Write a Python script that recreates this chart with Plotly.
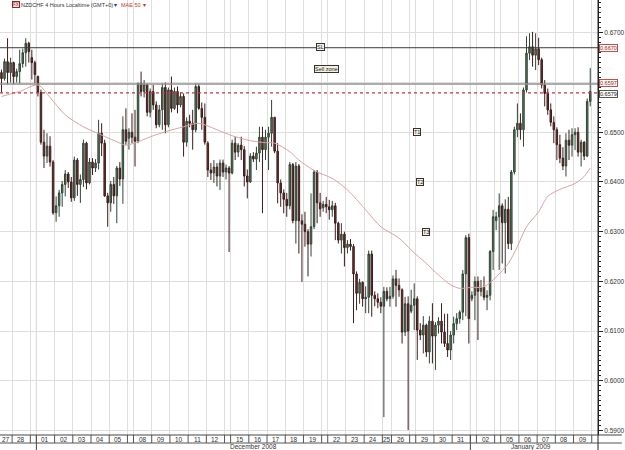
import plotly.graph_objects as go

# ---------------- data ----------------
day_labels = ['27', '28', '', '01', '02', '03', '04', '05', '', '08', '09', '10', '11', '12', '',
              '15', '16', '17', '18', '19', '', '22', '23', '24', '25', '26', '', '29', '30', '31',
              '', '02', '', '05', '06', '07', '08', '09']
day_sizes = [4, 6, 2, 6, 6, 6, 6, 6, 2, 6, 6, 6, 6, 6, 2,
             6, 6, 6, 6, 6, 2, 6, 6, 6, 3, 6, 2, 6, 6, 6,
             2, 6, 2, 6, 6, 6, 6, 6]
month_labels = ['December 2008', 'January 2009']
month_first_day = [3, 30]

opens = [
    0.6620, 0.6608, 0.6642, 0.6620,
    0.6640, 0.6612, 0.6622, 0.6638, 0.6660, 0.6679,
    0.6650, 0.6640,
    0.6612, 0.6580, 0.6480, 0.6452, 0.6472, 0.6440,
    0.6338, 0.6352, 0.6378, 0.6395, 0.6416, 0.6400,
    0.6368, 0.6444, 0.6395, 0.6405, 0.6478, 0.6398,
    0.6440, 0.6428, 0.6438, 0.6498, 0.6478, 0.6372,
    0.6358, 0.6395, 0.6372, 0.6428, 0.6406, 0.6505,
    0.6488, 0.6500,
    0.6490, 0.6482, 0.6598, 0.6582, 0.6596, 0.6540,
    0.6582, 0.6555, 0.6515, 0.6545, 0.6590, 0.6515,
    0.6585, 0.6548, 0.6582, 0.6555, 0.6572, 0.6480,
    0.6522, 0.6518, 0.6505, 0.6592, 0.6548, 0.6530,
    0.6478, 0.6424, 0.6418, 0.6430, 0.6412, 0.6438,
    0.6420, 0.6428,
    0.6418, 0.6478, 0.6460, 0.6474, 0.6465, 0.6412,
    0.6400, 0.6452, 0.6446, 0.6458, 0.6490, 0.6465,
    0.6490, 0.6498, 0.6530, 0.6462, 0.6398, 0.6378,
    0.6365, 0.6352, 0.6435, 0.6322, 0.6432, 0.6322,
    0.6315, 0.6300, 0.6275, 0.6310, 0.6420, 0.6358,
    0.6348, 0.6355,
    0.6350, 0.6344, 0.6352, 0.6317, 0.6283, 0.6295,
    0.6268, 0.6275, 0.6270, 0.6215, 0.6176, 0.6198,
    0.6165, 0.6168, 0.6255, 0.6172, 0.6165, 0.6158,
    0.6150, 0.6180, 0.6165,
    0.6170, 0.6205, 0.6192, 0.6183, 0.6098, 0.6155,
    0.6140, 0.6152,
    0.6165, 0.6102, 0.6092, 0.6112, 0.6058, 0.6120,
    0.6090, 0.6112, 0.6120, 0.6098, 0.6075, 0.6062,
    0.6092, 0.6115, 0.6125, 0.6138, 0.6215, 0.6288,
    0.6165, 0.6172,
    0.6200, 0.6180, 0.6188, 0.6168, 0.6172, 0.6260,
    0.6322, 0.6330,
    0.6352, 0.6318, 0.6345, 0.6276, 0.6420, 0.6505,
    0.6518, 0.6505, 0.6585, 0.6659, 0.6672, 0.6655,
    0.6668, 0.6646, 0.6595, 0.6578, 0.6545, 0.6520,
    0.6505, 0.6475, 0.6448, 0.6432, 0.6484, 0.6474,
    0.6495, 0.6500, 0.6460, 0.6480, 0.6452, 0.6562,
]
highs = [
    0.6626, 0.6648, 0.6689, 0.6650,
    0.6642, 0.6628, 0.6666, 0.6668, 0.6689, 0.6682,
    0.6666, 0.6644,
    0.6614, 0.6586, 0.6505, 0.6498, 0.6492, 0.6444,
    0.6371, 0.6384, 0.6402, 0.6424, 0.6420, 0.6410,
    0.6451, 0.6448, 0.6415, 0.6485, 0.6481, 0.6448,
    0.6448, 0.6446, 0.6525, 0.6518, 0.6485, 0.6378,
    0.6402, 0.6410, 0.6432, 0.6440, 0.6532, 0.6548,
    0.6508, 0.6538,
    0.6545, 0.6600, 0.6622, 0.6605, 0.6598, 0.6588,
    0.6595, 0.6562, 0.6555, 0.6598, 0.6600, 0.6590,
    0.6612, 0.6590, 0.6592, 0.6580, 0.6578, 0.6530,
    0.6535, 0.6545, 0.6599, 0.6598, 0.6560, 0.6558,
    0.6482, 0.6438, 0.6444, 0.6438, 0.6445, 0.6445,
    0.6435, 0.6432,
    0.6485, 0.6491, 0.6478, 0.6491, 0.6472, 0.6425,
    0.6458, 0.6460, 0.6471, 0.6511, 0.6511, 0.6505,
    0.6511, 0.6565, 0.6531, 0.6478, 0.6405, 0.6385,
    0.6378, 0.6440, 0.6438, 0.6440, 0.6436, 0.6335,
    0.6340, 0.6305, 0.6377, 0.6424, 0.6424, 0.6378,
    0.6362, 0.6370,
    0.6364, 0.6362, 0.6358, 0.6320, 0.6317, 0.6300,
    0.6283, 0.6285, 0.6275, 0.6220, 0.6205, 0.6200,
    0.6190, 0.6262, 0.6262, 0.6180, 0.6176, 0.6168,
    0.6189, 0.6188, 0.6189,
    0.6212, 0.6223, 0.6206, 0.6186, 0.6169, 0.6170,
    0.6183, 0.6196,
    0.6170, 0.6116, 0.6130, 0.6115, 0.6130, 0.6156,
    0.6118, 0.6128, 0.6156, 0.6135, 0.6135, 0.6100,
    0.6129, 0.6136, 0.6142, 0.6223, 0.6293, 0.6296,
    0.6180, 0.6210,
    0.6210, 0.6203, 0.6210, 0.6182, 0.6263, 0.6344,
    0.6340, 0.6377,
    0.6357, 0.6365, 0.6370, 0.6424, 0.6511, 0.6558,
    0.6538, 0.6590, 0.6693, 0.6699, 0.6702, 0.6699,
    0.6690, 0.6650, 0.6605, 0.6588, 0.6558, 0.6532,
    0.6510, 0.6495, 0.6470, 0.6498, 0.6505, 0.6508,
    0.6508, 0.6510, 0.6485, 0.6482, 0.6568, 0.6629,
]
lows = [
    0.6580, 0.6604, 0.6596, 0.6600,
    0.6596, 0.6600, 0.6598, 0.6630, 0.6632, 0.6640,
    0.6606, 0.6599,
    0.6572, 0.6475, 0.6428, 0.6438, 0.6431, 0.6334,
    0.6320, 0.6330, 0.6350, 0.6371, 0.6388, 0.6360,
    0.6362, 0.6372, 0.6358, 0.6390, 0.6385, 0.6395,
    0.6414, 0.6420, 0.6425, 0.6452, 0.6370, 0.6310,
    0.6340, 0.6356, 0.6317, 0.6392, 0.6356, 0.6475,
    0.6465, 0.6478,
    0.6431, 0.6478, 0.6572, 0.6570, 0.6532, 0.6530,
    0.6545, 0.6508, 0.6510, 0.6505, 0.6498, 0.6510,
    0.6540, 0.6545, 0.6538, 0.6550, 0.6451, 0.6471,
    0.6510, 0.6465, 0.6500, 0.6545, 0.6505, 0.6475,
    0.6410, 0.6404, 0.6398, 0.6391, 0.6384, 0.6410,
    0.6405, 0.6259,
    0.6415, 0.6444, 0.6450, 0.6444, 0.6391, 0.6367,
    0.6398, 0.6440, 0.6424, 0.6440, 0.6337, 0.6444,
    0.6424, 0.6471, 0.6458, 0.6357, 0.6350, 0.6337,
    0.6330, 0.6345, 0.6317, 0.6276, 0.6256, 0.6199,
    0.6270, 0.6210, 0.6250, 0.6305, 0.6317, 0.6330,
    0.6340, 0.6337,
    0.6324, 0.6330, 0.6283, 0.6276, 0.6256, 0.6230,
    0.6256, 0.6262, 0.6116, 0.6142, 0.6155, 0.6149,
    0.6136, 0.6136, 0.6129, 0.6150, 0.6146, 0.6136,
    0.5927, 0.6160, 0.6149,
    0.6165, 0.6149, 0.6169, 0.6075, 0.6090, 0.5901,
    0.6136, 0.6102,
    0.6042, 0.6082, 0.6055, 0.6048, 0.6035, 0.6035,
    0.6022, 0.6095, 0.6075, 0.6068, 0.6048, 0.6042,
    0.6075, 0.6102, 0.6115, 0.6122, 0.6130, 0.6075,
    0.6160, 0.6122,
    0.6082, 0.6170, 0.6162, 0.6142, 0.6162, 0.6223,
    0.6303, 0.6223,
    0.6236, 0.6216, 0.6265, 0.6263, 0.6415, 0.6490,
    0.6485, 0.6471, 0.6580, 0.6645, 0.6632, 0.6625,
    0.6635, 0.6588, 0.6552, 0.6535, 0.6512, 0.6478,
    0.6444, 0.6438, 0.6424, 0.6411, 0.6444, 0.6451,
    0.6464, 0.6451, 0.6431, 0.6444, 0.6450, 0.6552,
]
closes = [
    0.6608, 0.6642, 0.6620, 0.6640,
    0.6612, 0.6622, 0.6638, 0.6660, 0.6679, 0.6662,
    0.6640, 0.6616,
    0.6580, 0.6480, 0.6452, 0.6472, 0.6440, 0.6338,
    0.6352, 0.6378, 0.6395, 0.6416, 0.6400, 0.6368,
    0.6444, 0.6395, 0.6405, 0.6478, 0.6398, 0.6440,
    0.6428, 0.6438, 0.6498, 0.6478, 0.6372, 0.6358,
    0.6395, 0.6372, 0.6428, 0.6406, 0.6505, 0.6482,
    0.6500, 0.6490,
    0.6482, 0.6598, 0.6582, 0.6596, 0.6540, 0.6582,
    0.6555, 0.6515, 0.6545, 0.6590, 0.6515, 0.6585,
    0.6548, 0.6582, 0.6555, 0.6572, 0.6480, 0.6522,
    0.6518, 0.6505, 0.6592, 0.6548, 0.6530, 0.6480,
    0.6424, 0.6418, 0.6430, 0.6412, 0.6438, 0.6420,
    0.6428, 0.6418,
    0.6478, 0.6460, 0.6474, 0.6465, 0.6412, 0.6400,
    0.6452, 0.6446, 0.6458, 0.6490, 0.6465, 0.6490,
    0.6498, 0.6530, 0.6462, 0.6398, 0.6378, 0.6365,
    0.6352, 0.6435, 0.6322, 0.6432, 0.6322, 0.6315,
    0.6300, 0.6275, 0.6310, 0.6420, 0.6358, 0.6346,
    0.6355, 0.6350,
    0.6344, 0.6352, 0.6317, 0.6283, 0.6295, 0.6268,
    0.6275, 0.6270, 0.6215, 0.6176, 0.6198, 0.6165,
    0.6168, 0.6255, 0.6172, 0.6165, 0.6158, 0.6150,
    0.6180, 0.6165, 0.6170,
    0.6205, 0.6192, 0.6183, 0.6098, 0.6155, 0.6100,
    0.6152, 0.6165,
    0.6102, 0.6092, 0.6112, 0.6058, 0.6120, 0.6090,
    0.6112, 0.6120, 0.6098, 0.6075, 0.6062, 0.6092,
    0.6115, 0.6125, 0.6138, 0.6215, 0.6288, 0.6125,
    0.6172, 0.6200,
    0.6180, 0.6188, 0.6168, 0.6172, 0.6260, 0.6330,
    0.6330, 0.6352,
    0.6318, 0.6345, 0.6276, 0.6420, 0.6505, 0.6518,
    0.6505, 0.6585, 0.6659, 0.6672, 0.6655, 0.6668,
    0.6646, 0.6595, 0.6578, 0.6545, 0.6520, 0.6505,
    0.6475, 0.6448, 0.6432, 0.6484, 0.6474, 0.6495,
    0.6500, 0.6460, 0.6480, 0.6452, 0.6562, 0.6582,
]

# moving average (MAE 50) samples: candle index -> value
ma_idx = [0, 6, 12, 16, 21, 27, 32, 38, 41, 45, 50, 54, 60, 65, 71, 76, 82, 87, 90, 95,
          98, 103, 109, 114, 120, 125, 131, 135, 140, 144, 148, 151, 155, 159, 163, 167,
          170, 173, 177, 180, 184, 189, 192, 194]
ma_val = [0.6572, 0.6582, 0.6595, 0.6570, 0.6535, 0.6511, 0.6497, 0.6481, 0.6474, 0.6481,
          0.6493, 0.6501, 0.6511, 0.6518, 0.6505, 0.6493, 0.6483, 0.6479, 0.6478, 0.6461,
          0.6444, 0.6423, 0.6407, 0.6384, 0.6344, 0.6310, 0.6287, 0.6263, 0.6236, 0.6213,
          0.6193, 0.6186, 0.6188, 0.6189, 0.6209, 0.6236, 0.6270, 0.6310, 0.6340, 0.6371,
          0.6385, 0.6397, 0.6411, 0.6428]

level_sl = 0.6670
level_mid = 0.6597
level_cur = 0.6579

notes = ['SL', 'Sell zone', 'T1', 'T2', 'T3']
note_idx = [105, 107, 137, 138, 140]
note_val = [0.6671, 0.6627, 0.6500, 0.6400, 0.6300]

y_ticks = [0.59, 0.60, 0.61, 0.62, 0.63, 0.64, 0.65, 0.66, 0.67]
# 0.6600 label is covered by the price boxes in the original
y_ticktext = ['0.5900', '0.6000', '0.6100', '0.6200', '0.6300', '0.6400', '0.6500', '', '0.6700']

# ---------------- figure ----------------
n = len(opens)
xs = list(range(n))
starts = []
s = 0
for sz in day_sizes:
    starts.append(s)
    s += sz
bounds = [st - 0.5 for st in starts] + [s - 0.5]

FONT = 'Liberation Sans, Arial, sans-serif'
PLOT_H = 435.0
PLOT_W = 601.0

fig = go.Figure()
fig.add_trace(go.Candlestick(
    x=xs, open=opens, high=highs, low=lows, close=closes,
    increasing=dict(line=dict(color='#2f4536', width=1), fillcolor='#5a7862'),
    decreasing=dict(line=dict(color='#3e1c1c', width=1), fillcolor='#74302e'),
    whiskerwidth=0, showlegend=False, hoverinfo='skip'))

fig.add_trace(go.Scatter(x=ma_idx, y=ma_val, mode='lines',
                         line=dict(color='#dba3a3', width=1, shape='spline', smoothing=0.8),
                         showlegend=False, hoverinfo='skip'))

shapes = []
# horizontal level lines
shapes.append(dict(type='line', xref='paper', x0=0, x1=1, yref='y', y0=level_sl, y1=level_sl,
                   line=dict(color='#3a3a3a', width=1)))
shapes.append(dict(type='line', xref='paper', x0=0, x1=1, yref='y', y0=level_mid, y1=level_mid,
                   line=dict(color='#909090', width=1.5)))
shapes.append(dict(type='line', xref='paper', x0=0, x1=1, yref='y', y0=level_cur, y1=level_cur,
                   line=dict(color='#c23b3b', width=1.2, dash='dot')))

# month boundary lines (darker) through plot and axis rows
for di in month_first_day:
    xb = bounds[di]
    shapes.append(dict(type='line', xref='x', x0=xb, x1=xb, yref='paper', y0=0, y1=1,
                       line=dict(color='#b5b5b5', width=1), layer='below'))
    shapes.append(dict(type='line', xref='x', x0=xb, x1=xb, yref='paper', y0=-15 / PLOT_H, y1=0,
                       line=dict(color='#444', width=1)))
# day cell separators in the axis row
for xb in bounds[1:]:
    shapes.append(dict(type='line', xref='x', x0=xb, x1=xb, yref='paper', y0=-8 / PLOT_H, y1=0,
                       line=dict(color='#555', width=1)))
# axis row separators
shapes.append(dict(type='line', xref='paper', x0=0, x1=625 / PLOT_W, yref='paper',
                   y0=-8 / PLOT_H, y1=-8 / PLOT_H, line=dict(color='#555', width=1)))
shapes.append(dict(type='line', xref='paper', x0=0, x1=625 / PLOT_W, yref='paper',
                   y0=0, y1=0, line=dict(color='#444', width=1)))
shapes.append(dict(type='line', xref='paper', x0=1, x1=1, yref='paper',
                   y0=-15 / PLOT_H, y1=1, line=dict(color='#222', width=1)))

annotations = []
for lab, st, sz in zip(day_labels, starts, day_sizes):
    if lab:
        annotations.append(dict(x=st + (sz - 1) / 2.0, xref='x', y=-4 / PLOT_H, yref='paper',
                                text=lab, showarrow=False, font=dict(family=FONT, size=6.5, color='#333'),
                                xanchor='center', yanchor='middle'))
month_ends = month_first_day[1:] + [len(day_sizes)]
for lab, d0, d1 in zip(month_labels, month_first_day, month_ends):
    x0 = bounds[d0]
    x1 = min(bounds[d1], 196.5)
    annotations.append(dict(x=(x0 + x1) / 2.0, xref='x', y=-11.5 / PLOT_H, yref='paper',
                            text=lab, showarrow=False, font=dict(family=FONT, size=6.5, color='#333'),
                            xanchor='center', yanchor='middle'))

for t, xi, yv in zip(notes, note_idx, note_val):
    annotations.append(dict(x=xi, y=yv, xref='x', yref='y', text=t, showarrow=False,
                            font=dict(family=FONT, size=5.5, color='#222'),
                            bgcolor='#f4f0e2', bordercolor='#333', borderwidth=1, borderpad=0))

# price boxes on the right axis (small vertical nudges keep adjacent boxes apart)
for val, bc, tc, ys in [(level_sl, '#c0504d', '#8b2a25', 0), (level_mid, '#c0504d', '#8b2a25', 1.5),
                        (level_cur, '#4d5d4d', '#222', -1.5)]:
    annotations.append(dict(x=1, xref='paper', xanchor='left', xshift=1, y=val, yref='y',
                            yshift=ys, text='%.4f' % val, showarrow=False,
                            font=dict(family=FONT, size=5.5, color=tc),
                            bgcolor='#fffaf5', bordercolor=bc, borderwidth=1, borderpad=0))

# header
HY = 1 - 5 / PLOT_H
annotations.append(dict(x=12 / PLOT_W, xref='paper', y=HY, yref='paper', text='FX',
                        showarrow=False, xanchor='left', yanchor='middle',
                        font=dict(family=FONT, size=4.5, color='#8b2a25'),
                        bordercolor='#8b2a25', borderwidth=1, borderpad=0, bgcolor='#f3dede'))
annotations.append(dict(x=19 / PLOT_W, xref='paper', y=HY, yref='paper',
                        text='NZDCHF 4 Hours Localtime (GMT+0)', showarrow=False,
                        xanchor='left', yanchor='middle', font=dict(family=FONT, size=5.5, color='#333')))
annotations.append(dict(x=113 / PLOT_W, xref='paper', y=HY, yref='paper', text='▾',
                        showarrow=False, xanchor='left', yanchor='middle',
                        font=dict(family=FONT, size=5.5, color='#333')))
annotations.append(dict(x=120 / PLOT_W, xref='paper', y=HY, yref='paper', text='MAE 50',
                        showarrow=False, xanchor='left', yanchor='middle',
                        font=dict(family=FONT, size=5.5, color='#c0392b')))
annotations.append(dict(x=142 / PLOT_W, xref='paper', y=HY, yref='paper', text='▾',
                        showarrow=False, xanchor='left', yanchor='middle',
                        font=dict(family=FONT, size=5.5, color='#c0392b')))

fig.update_layout(
    width=625, height=450,
    margin=dict(l=0, r=24, t=0, b=15),
    paper_bgcolor='white', plot_bgcolor='white',
    showlegend=False,
    font=dict(family=FONT, size=7, color='#333'),
    xaxis=dict(range=[-0.49, 196.56], tickmode='array', tickvals=bounds, showticklabels=False,
               ticks='', showgrid=True, gridcolor='#dedede', gridwidth=1, zeroline=False,
               showline=False, rangeslider=dict(visible=False), fixedrange=True),
    yaxis=dict(side='right', range=[0.5891, 0.6766], tickmode='array', tickvals=y_ticks,
               ticktext=y_ticktext, ticks='outside', ticklen=4,
               tickcolor='#222', showgrid=True, gridcolor='#dedede', zeroline=False,
               showline=True, linecolor='#222', linewidth=1,
               tickfont=dict(family=FONT, size=6.5, color='#333'),
               minor=dict(tickmode='linear', tick0=0.59, dtick=0.001, ticks='outside', ticklen=2,
                          tickcolor='#222', showgrid=False)),
    shapes=shapes,
    annotations=annotations,
)

fig.write_html('out.html')
